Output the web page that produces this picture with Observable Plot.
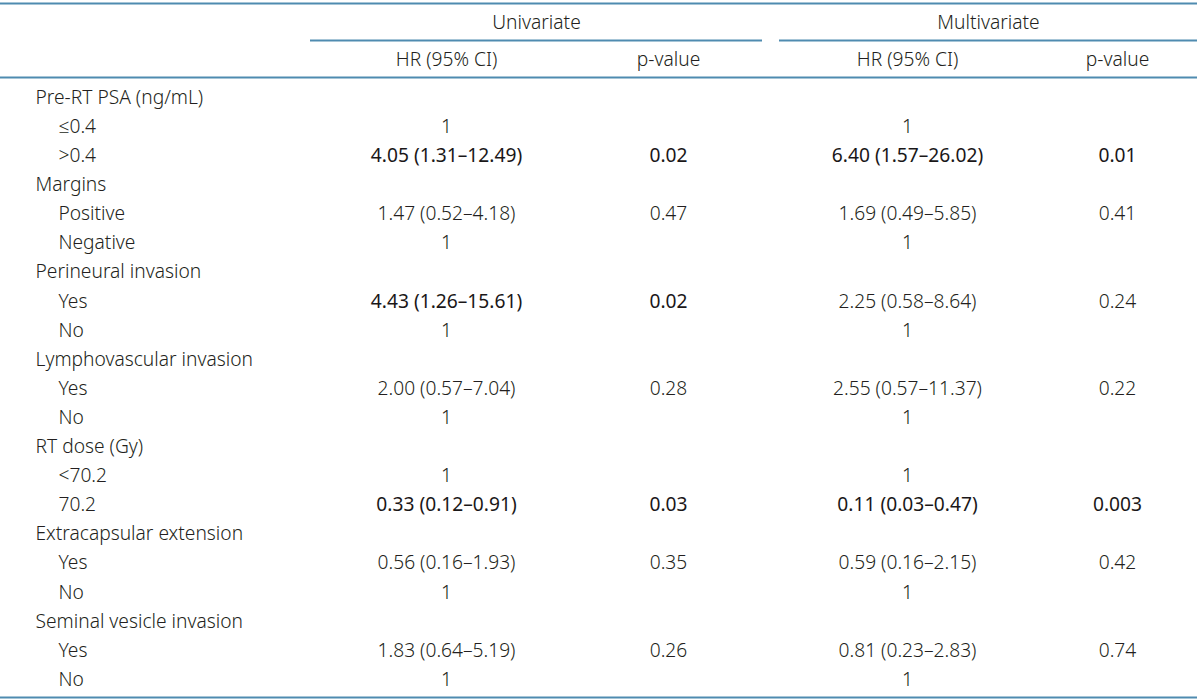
<!DOCTYPE html>
<html>
<head>
<meta charset="utf-8">
<script src="https://cdn.jsdelivr.net/npm/d3@7"></script>
<script src="https://cdn.jsdelivr.net/npm/@observablehq/plot@0.6"></script>
<style>
  html, body { margin: 0; padding: 0; background: #ffffff; }
  #chart svg { display: block; }
</style>
</head>
<body>
<div id="chart"></div>
<script>
// ---- data ----
const rowLabels = ["Pre-RT PSA (ng/mL)", "≤0.4", ">0.4", "Margins", "Positive", "Negative",
  "Perineural invasion", "Yes", "No", "Lymphovascular invasion", "Yes", "No",
  "RT dose (Gy)", "<70.2", "70.2", "Extracapsular extension", "Yes", "No",
  "Seminal vesicle invasion", "Yes", "No"];
const isCategory = [true, false, false, true, false, false, true, false, false, true, false, false,
  true, false, false, true, false, false, true, false, false];
const uniHR = ["", "1", "4.05 (1.31–12.49)", "", "1.47 (0.52–4.18)", "1", "", "4.43 (1.26–15.61)", "1",
  "", "2.00 (0.57–7.04)", "1", "", "1", "0.33 (0.12–0.91)", "", "0.56 (0.16–1.93)", "1",
  "", "1.83 (0.64–5.19)", "1"];
const uniP = ["", "", "0.02", "", "0.47", "", "", "0.02", "", "", "0.28", "", "", "", "0.03", "",
  "0.35", "", "", "0.26", ""];
const multiHR = ["", "1", "6.40 (1.57–26.02)", "", "1.69 (0.49–5.85)", "1", "", "2.25 (0.58–8.64)", "1",
  "", "2.55 (0.57–11.37)", "1", "", "1", "0.11 (0.03–0.47)", "", "0.59 (0.16–2.15)", "1",
  "", "0.81 (0.23–2.83)", "1"];
const multiP = ["", "", "0.01", "", "0.41", "", "", "0.24", "", "", "0.22", "", "", "", "0.003", "",
  "0.42", "", "", "0.74", ""];
const uniBoldRows = [2, 7, 14];
const multiBoldRows = [2, 14];
const groupHeaders = ["Univariate", "Multivariate"];
const colHeaders = ["HR (95% CI)", "p-value", "HR (95% CI)", "p-value"];

// ---- layout ----
const W = 1200, H = 700;
const rowTop = 97.2, rowStep = 29.1;
const labelX = 35, subX = 58;
const colX = [446, 668, 907, 1117];
const groupX = [536, 988];
const groupLines = [[310, 762], [779, 1197]];
const yGroup = 22, yColHead = 59;
const yTopLine = 3, yGroupLine = 40, yHeadLine = 77, yBottomLine = 697;
const lineColor = "#4f8bb0";
const textColor = "#231f20";
const font = "'Noto Sans', 'Open Sans', sans-serif";
const fs = 19.2;
const fw = 330;
const fwBold = 430;

const rows = rowLabels.map((label, i) => ({
  i, label, cat: isCategory[i],
  y: rowTop + i * rowStep,
  cells: [uniHR[i], uniP[i], multiHR[i], multiP[i]]
}));

const cells = [];
rows.forEach(r => r.cells.forEach((t, c) => {
  if (t) cells.push({
    text: t, x: colX[c], y: r.y,
    bold: c < 2 ? uniBoldRows.includes(r.i) : multiBoldRows.includes(r.i)
  });
}));

const headers = [
  ...groupHeaders.map((t, k) => ({text: t, x: groupX[k], y: yGroup})),
  ...colHeaders.map((t, k) => ({text: t, x: colX[k], y: yColHead}))
];

const hLines = [
  {x1: 0, x2: 1197, y: yTopLine},
  ...groupLines.map(([a, b]) => ({x1: a, x2: b, y: yGroupLine})),
  {x1: 0, x2: 1197, y: yHeadLine},
  {x1: 0, x2: 1197, y: yBottomLine}
];

const chart = Plot.plot({
  width: W, height: H,
  margin: 0,
  x: {domain: [0, W], range: [0, W], axis: null},
  y: {domain: [0, H], range: [0, H], axis: null},
  style: {background: "#ffffff", fontFamily: font},
  marks: [
    Plot.ruleY(hLines, {y: "y", x1: "x1", x2: "x2", stroke: lineColor, strokeWidth: 1.8}),
    Plot.text(headers, {x: "x", y: "y", text: "text", fill: textColor, fontSize: fs, fontWeight: fw, textAnchor: "middle"}),
    Plot.text(rows, {x: d => d.cat ? labelX : subX, y: "y", text: "label", fill: textColor,
      fontSize: fs, fontWeight: fw, textAnchor: "start"}),
    Plot.text(cells.filter(d => !d.bold), {x: "x", y: "y", text: "text", fill: textColor,
      fontSize: fs, fontWeight: fw, textAnchor: "middle"}),
    Plot.text(cells.filter(d => d.bold), {x: "x", y: "y", text: "text", fill: "#1a1718",
      fontSize: fs, fontWeight: fwBold, textAnchor: "middle"})
  ]
});
document.getElementById("chart").appendChild(chart);
</script>
</body>
</html>
